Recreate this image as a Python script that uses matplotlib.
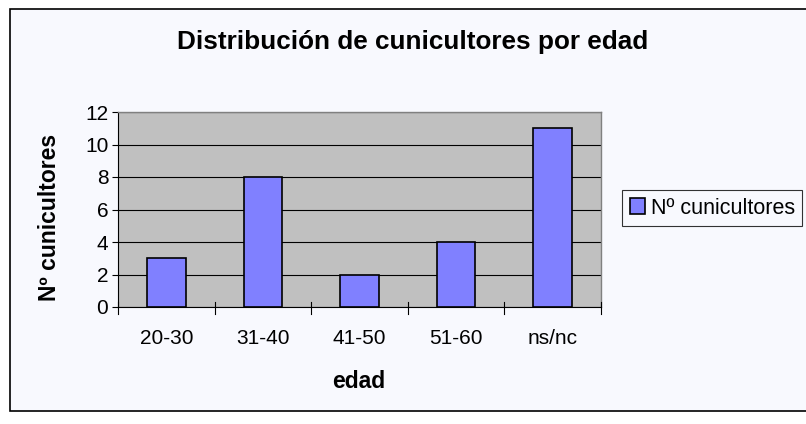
import matplotlib
matplotlib.use("Agg")
import matplotlib.pyplot as plt
from matplotlib.patches import Rectangle

categories = ["20-30", "31-40", "41-50", "51-60", "ns/nc"]
values = [3, 8, 2, 4, 11]
series_name = "Nº cunicultores"
title = "Distribución de cunicultores por edad"
yticks = [0, 2, 4, 6, 8, 10, 12]

plt.rcParams['font.family'] = ['Liberation Sans', 'DejaVu Sans']

W, H = 806, 424
fig = plt.figure(figsize=(W/100, H/100), dpi=100)
fig.patch.set_facecolor('white')

# outer chart frame
frame = Rectangle((10/W, 1-411/H), (W+5-10)/W, (411-9)/H, transform=fig.transFigure,
                  facecolor='#F8F9FE', edgecolor='#000000', linewidth=1.2, zorder=-10)
fig.patches.append(frame)

left, right, top, bottom = 118, 601, 112, 307
ax = fig.add_axes([left/W, 1-bottom/H, (right-left)/W, (bottom-top)/H])
ax.set_zorder(2)
ax.set_facecolor('#C0C0C0')
x = list(range(len(categories)))
bars = ax.bar(x, values, width=0.4, color='#8080FF', edgecolor='black', linewidth=1.2,
              label=series_name, zorder=3)
ax.set_xlim(-0.5, len(categories)-0.5)
ax.set_ylim(0, 12)
ax.set_yticks(yticks)
ax.yaxis.grid(True, color='black', linewidth=0.8, zorder=1)
ax.set_axisbelow(True)
ax.set_xticks(x)
ax.set_xticklabels(categories, fontsize=15)
ax.tick_params(axis='x', length=0, pad=15.5)
ax.tick_params(axis='y', length=4, width=0.8, labelsize=15, pad=3)
for b in [i - 0.5 for i in range(len(categories)+1)]:
    ax.plot([b, b], [0.3, -0.42], color='black', linewidth=0.8, clip_on=False, zorder=4)
for s in ['top', 'right']:
    ax.spines[s].set_color('#808080')
    ax.spines[s].set_linewidth(1)
ax.spines['left'].set_color('black')
ax.spines['bottom'].set_color('black')
ax.spines['left'].set_linewidth(0.8)
ax.spines['bottom'].set_linewidth(0.8)

fig.text(413/W, 1-42/H, title, ha='center', va='center', fontsize=18.8, fontweight='bold')
fig.text(50/W, 1-217/H, "Nº cunicultores", ha='center', va='center', rotation=90,
         fontsize=16.5, fontweight='bold')
fig.text(359/W, 1-381/H, "edad", ha='center', va='center', fontsize=16.5, fontweight='bold')

leg = fig.legend(handles=[bars], labels=[series_name], loc='upper left',
                 bbox_to_anchor=(622/W, 1-190/H), fontsize=15.5, frameon=True,
                 fancybox=False, edgecolor='black', facecolor='#F8F9FE',
                 handlelength=0.7, handleheight=0.7, handletextpad=0.28, borderpad=0.35,
                 borderaxespad=0)
leg.get_frame().set_linewidth(0.8)

fig.savefig("out.png", dpi=100, facecolor=fig.get_facecolor())
